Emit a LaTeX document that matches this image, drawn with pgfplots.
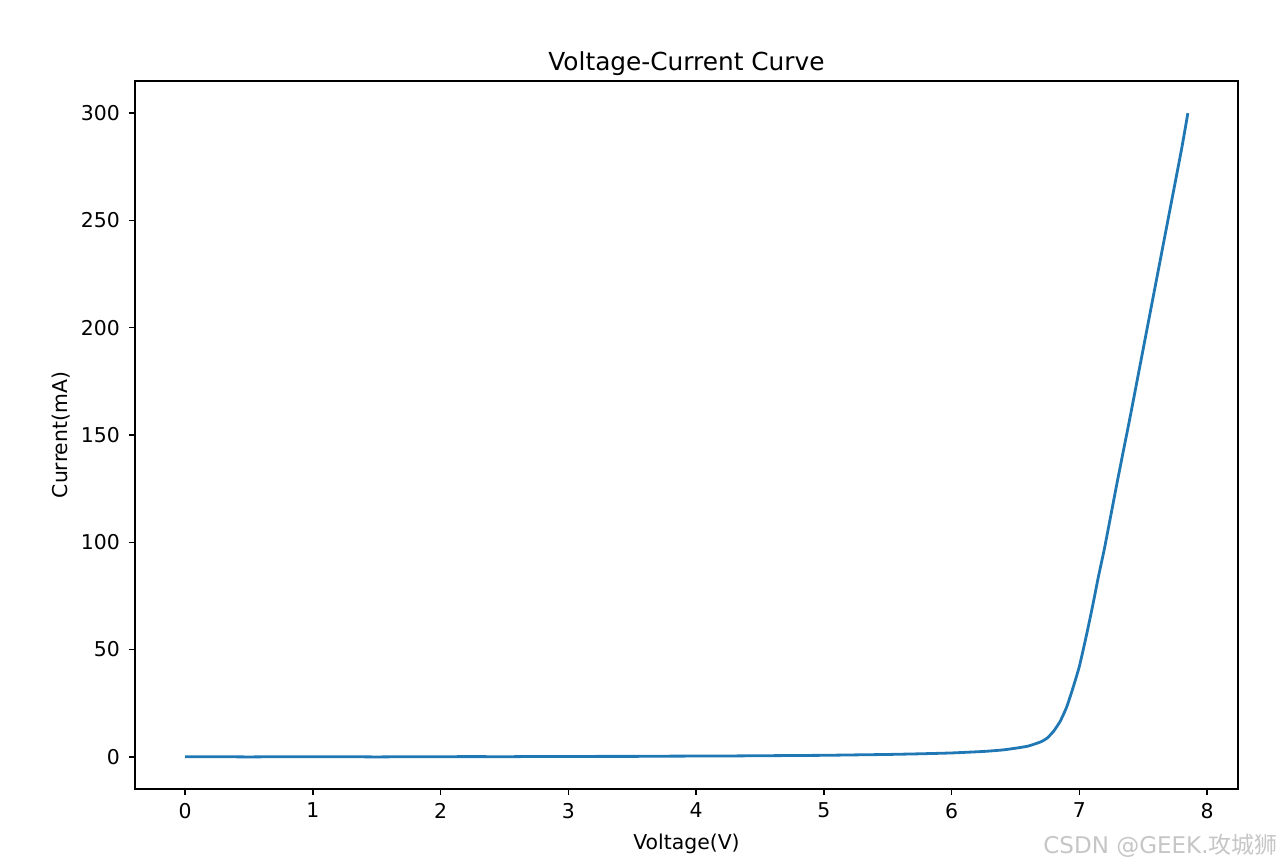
\documentclass[border=0pt]{standalone}
\usepackage{pgfplots}
\pgfplotsset{compat=1.18}
\usepackage{fontspec}
\setmainfont{DejaVu Sans}
\newfontfamily\cjk{Noto Sans CJK SC}
\definecolor{mplblue}{HTML}{1F77B4}
\begin{document}
\begin{tikzpicture}
\path (-67.5pt,-39.5pt) rectangle (573pt,394.5pt);
\begin{axis}[
  at={(0,0)}, anchor=south west,
  scale only axis, width=551.5pt, height=354pt,
  xmin=-0.3925, xmax=8.2425, ymin=-15, ymax=315,
  xtick={0,1,...,8}, ytick={0,50,...,300},
  tick align=outside, tick pos=left,
  major tick length=3pt,
  every tick/.style={black, line width=0.7pt},
  axis line style={line width=0.7pt},
  /pgf/number format/assume math mode=true,
  tick label style={font=\fontsize{10.2pt}{12pt}\selectfont},
  xticklabel style={yshift=-0.5pt},
  yticklabel style={xshift=-1pt},
  label style={font=\fontsize{10.2pt}{12pt}\selectfont},
  xlabel={Voltage(V)}, ylabel={Current(mA)},
  xlabel style={at={(axis description cs:0.5,0)}, anchor=north, yshift=-19pt},
  ylabel style={at={(axis description cs:0,0.5)}, anchor=south, rotate=0, yshift=29pt},
  title={Voltage-Current Curve},
  title style={font=\fontsize{12.4pt}{14pt}\selectfont, at={(axis description cs:0.5,1)}, anchor=south, yshift=-7pt},
]
\addplot[mplblue, line width=1.4pt, no marks, smooth, tension=0.3] coordinates {
(0,0) (0.25,0.05) (0.5,-0.05) (0.75,0.05) (1,0.0) (1.25,0.05) (1.5,-0.05) (1.75,0.05) (2,0.05)
(2.25,0.1) (2.5,0.05) (2.75,0.15) (3,0.15) (3.25,0.2) (3.5,0.2) (3.75,0.3) (4,0.35)
(4.25,0.4) (4.5,0.5) (4.75,0.6) (5,0.7) (5.25,0.9) (5.5,1.1) (5.75,1.4) (6,1.8)
(6.25,2.5) (6.4,3.2) (6.5,4) (6.6,5) (6.7,7) (6.75,8.8) (6.8,12) (6.85,16.5) (6.9,23)
(6.95,32) (7.0,42) (7.05,55) (7.1,69) (7.15,84) (7.2,98) (7.3,129) (7.4,159) (7.5,190)
(7.6,221) (7.7,252) (7.8,283) (7.85,300)
};
\end{axis}
\node[anchor=east, text=gray!45, font=\fontsize{11.5pt}{14pt}\selectfont, inner sep=0pt] at (571.5pt,-28.5pt) {CSDN @GEEK.{\cjk 攻城狮}};
\end{tikzpicture}
\end{document}
